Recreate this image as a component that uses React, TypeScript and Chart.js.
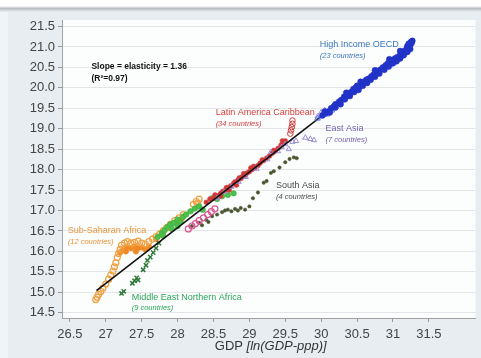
import { useEffect, useRef } from "react";
import { Chart, registerables } from "chart.js";

Chart.register(...registerables);

type P = [number, number];

const xTickValues = [26.5, 27, 27.5, 28, 28.5, 29, 29.5, 30, 30.5, 31, 31.5];
const yTickValues = [14.5, 15, 15.5, 16, 16.5, 17, 17.5, 18, 18.5, 19, 19.5, 20, 20.5, 21, 21.5];

const regressionLine: P[] = [[26.87, 15.04], [31.25, 21.0]];

const oecdCircles: P[] = [
  [30.02, 19.33], [30.06, 19.38], [30.1, 19.42], [30.14, 19.5], [30.18, 19.55], [30.2, 19.6],
  [30.25, 19.66], [30.28, 19.7], [30.32, 19.78], [30.35, 19.8], [30.38, 19.86], [30.42, 19.9],
  [30.45, 19.97], [30.48, 20.0], [30.5, 20.05], [30.53, 20.02], [30.56, 20.1], [30.6, 20.15],
  [30.63, 20.2], [30.66, 20.22], [30.7, 20.28], [30.73, 20.32], [30.76, 20.38], [30.8, 20.42],
  [30.83, 20.45], [30.86, 20.5], [30.9, 20.55], [30.93, 20.6], [30.96, 20.62], [31.0, 20.68],
  [31.03, 20.72], [31.06, 20.75], [31.1, 20.8], [31.13, 20.86], [31.16, 20.9], [31.19, 20.95],
  [31.22, 21.0], [31.24, 21.05], [31.26, 21.1], [31.27, 21.15], [31.25, 21.12], [31.2, 21.02],
  [30.05, 19.42], [30.12, 19.4], [30.2, 19.52], [30.27, 19.6], [30.33, 19.72], [30.4, 19.8],
  [30.46, 19.9], [30.52, 19.95], [30.58, 20.05], [30.64, 20.12], [30.69, 20.2], [30.75, 20.27],
  [30.81, 20.35], [30.88, 20.44], [30.94, 20.52], [31.0, 20.6], [31.05, 20.65], [31.1, 20.72],
  [31.15, 20.8], [31.2, 20.88], [31.24, 20.95], [30.35, 19.88], [30.55, 20.15], [30.75, 20.43],
  [30.95, 20.7], [31.1, 20.9], [31.22, 21.08],
];
const oecdTriangles: P[] = [
  [29.95, 19.25], [30.0, 19.3], [30.08, 19.35], [30.15, 19.45], [30.3, 19.7], [30.4, 19.85],
  [30.5, 19.98], [30.55, 20.05], [30.62, 20.12], [30.7, 20.25], [30.78, 20.35], [30.85, 20.45],
  [30.95, 20.55], [31.05, 20.7], [31.12, 20.8], [31.18, 20.9], [31.23, 20.98],
];
const eastAsia: P[] = [
  [28.55, 17.3], [28.65, 17.45], [28.75, 17.58], [28.85, 17.7], [28.95, 17.82], [29.1, 18.02],
  [29.25, 18.25], [29.3, 18.43], [29.4, 18.45], [29.45, 18.55], [29.5, 18.62], [29.55, 18.5],
  [29.6, 18.68], [29.65, 18.7], [29.78, 18.78], [29.85, 18.75], [29.9, 18.72], [29.95, 19.3],
  [30.0, 19.4], [30.05, 19.45], [30.1, 19.38],
];
const latinAmerica: P[] = [
  [28.4, 17.2], [28.45, 17.28], [28.5, 17.3], [28.55, 17.36], [28.6, 17.42], [28.63, 17.47],
  [28.67, 17.5], [28.7, 17.56], [28.74, 17.6], [28.78, 17.66], [28.8, 17.7], [28.84, 17.74],
  [28.88, 17.78], [28.9, 17.82], [28.94, 17.86], [28.97, 17.92], [29.0, 17.95], [29.04, 18.0],
  [29.08, 18.05], [29.12, 18.1], [29.15, 18.16], [29.2, 18.22], [29.24, 18.28], [29.28, 18.33],
  [29.32, 18.4], [29.36, 18.45], [29.4, 18.52], [29.44, 18.6], [29.47, 18.66], [29.5, 18.7],
  [28.82, 17.62], [28.92, 17.9], [29.06, 18.08], [28.6, 17.35], [28.72, 17.5],
  [28.52, 17.38], [28.68, 17.56], [28.86, 17.8], [29.02, 18.04], [29.18, 18.24], [29.34, 18.47],
  [29.46, 18.7],
];
const latinCircles: P[] = [[29.57, 18.88], [29.58, 18.96], [29.59, 19.04], [29.6, 19.12], [29.6, 19.2]];
const pinkCircles: P[] = [
  [28.15, 16.55], [28.2, 16.62], [28.25, 16.68], [28.3, 16.75], [28.36, 16.82], [28.42, 16.9],
  [28.47, 16.97], [28.52, 17.04],
];
const southAsia: P[] = [
  [28.2, 16.62], [28.3, 16.7], [28.34, 16.64], [28.4, 16.77], [28.43, 16.72], [28.48, 16.86],
  [28.55, 16.9], [28.62, 16.96], [28.66, 17.0], [28.7, 17.02], [28.75, 16.98], [28.8, 17.04],
  [28.84, 17.0], [28.88, 17.06], [28.94, 17.02], [29.0, 17.1], [29.05, 17.3], [29.12, 17.44],
  [29.2, 17.68], [29.24, 17.72], [29.3, 17.92], [29.34, 17.96], [29.42, 18.05], [29.5, 18.18],
  [29.56, 18.26], [29.62, 18.3], [29.66, 18.28],
];
const menaCrosses: P[] = [
  [27.22, 14.97], [27.25, 15.02], [27.37, 15.22], [27.4, 15.28], [27.43, 15.35], [27.45, 15.3],
  [27.52, 15.55], [27.56, 15.66], [27.58, 15.78], [27.62, 15.86], [27.66, 15.97], [27.7, 16.08],
  [27.74, 16.2],
];
const menaFilled: P[] = [
  [27.72, 16.35], [27.78, 16.45], [27.82, 16.52], [27.86, 16.6], [27.9, 16.66], [27.95, 16.7],
  [28.0, 16.78], [28.04, 16.72], [28.08, 16.85], [28.12, 16.9], [28.18, 16.98], [28.24, 17.05],
  [28.3, 17.1], [28.35, 17.02], [28.48, 17.3], [28.55, 17.28], [28.62, 17.35], [28.7, 17.38],
  [28.78, 17.42], [27.8, 16.38], [27.92, 16.55], [28.0, 16.62],
];
const ssaCircles: P[] = [
  [26.86, 14.82], [26.88, 14.88], [26.9, 14.95], [26.93, 15.02], [26.96, 15.1], [27.0, 15.2],
  [27.04, 15.32], [27.07, 15.42], [27.1, 15.52], [27.12, 15.62], [27.14, 15.72], [27.16, 15.85],
  [27.18, 15.95], [27.2, 16.05], [27.22, 16.15], [27.26, 16.2], [27.3, 16.24], [27.35, 16.2],
  [27.4, 16.22], [27.45, 16.25], [27.5, 16.2], [27.55, 16.18], [27.6, 16.24], [27.65, 16.3],
  [27.7, 16.36], [27.75, 16.42], [27.8, 16.5], [27.85, 16.58], [27.9, 16.66], [27.96, 16.75],
  [28.02, 16.82], [28.08, 16.9], [28.22, 17.15], [28.26, 17.22], [28.3, 17.28], [28.28, 17.18],
];
const ssaFilled: P[] = [
  [27.25, 16.05], [27.3, 16.1], [27.35, 16.08], [27.4, 16.12], [27.45, 16.08], [27.5, 16.1],
  [27.55, 16.05], [27.6, 16.12], [27.28, 16.0], [27.42, 16.0], [27.7, 16.3], [27.78, 16.45],
  [27.88, 16.62], [27.98, 16.72], [28.06, 16.8], [27.2, 15.98],
];

const annotations = [
  { lines: ["Slope = elasticity = 1.36", "(R\u00b2=0.97)"], x: 26.8, y: 20.51, color: "#111111", bold: true },
  { lines: ["High Income OECD", "(23 countries)"], x: 29.98, y: 21.05, color: "#3a78bd" },
  { lines: ["Latin America Caribbean", "(34 countries)"], x: 28.53, y: 19.39, color: "#d8403e" },
  { lines: ["East Asia", "(7 countries)"], x: 30.06, y: 19.0, color: "#7462ad" },
  { lines: ["South Asia", "(4 countries)"], x: 29.37, y: 17.6, color: "#4a4a4a" },
  { lines: ["Sub-Saharan Africa", "(12 countries)"], x: 26.47, y: 16.51, color: "#e8963c" },
  { lines: ["Middle East Northern Africa", "(9 countries)"], x: 27.36, y: 14.88, color: "#2ca65a" },
];

const toXY = (pts: P[]) => pts.map(([x, y]) => ({ x, y }));

const backgroundPlugin = {
  id: "bg",
  beforeDraw(chart: any) {
    const { ctx, chartArea, width, height } = chart;
    ctx.save();
    ctx.fillStyle = "#ffffff";
    ctx.fillRect(0, 0, width, height);
    ctx.fillStyle = "#e8edf1";
    ctx.fillRect(0, 9, width, height - 9);
    ctx.fillStyle = "#f1f4f6";
    ctx.fillRect(0, 9, 8, height - 9);
    const g = ctx.createLinearGradient(0, 6, 0, 12);
    g.addColorStop(0, "#ffffff");
    g.addColorStop(0.4, "#b9bec2");
    g.addColorStop(1, "#e8edf1");
    ctx.fillStyle = g;
    ctx.fillRect(0, 6, width, 6);
    ctx.fillStyle = "#fcfdfd";
    ctx.fillRect(chartArea.left, chartArea.top, chartArea.right - chartArea.left, chartArea.bottom - chartArea.top);
    ctx.restore();
  },
};

const textPlugin = {
  id: "texts",
  afterDatasetsDraw(chart: any) {
    const { ctx, scales, chartArea } = chart;
    ctx.save();
    ctx.textBaseline = "middle";
    ctx.textAlign = "left";
    for (const a of annotations) {
      const px = scales.x.getPixelForValue(a.x);
      const py = scales.y.getPixelForValue(a.y);
      ctx.fillStyle = a.color;
      if ((a as any).bold) {
        ctx.font = "bold 8.5px 'Liberation Sans', Arial, sans-serif";
        ctx.fillText(a.lines[0], px, py);
        ctx.fillText(a.lines[1], px, py + 12);
      } else {
        ctx.font = "9px 'Liberation Sans', Arial, sans-serif";
        ctx.fillText(a.lines[0], px, py);
        ctx.font = "italic 7.5px 'Liberation Sans', Arial, sans-serif";
        ctx.fillText(a.lines[1], px, py + 11);
      }
    }
    const normal = "13px 'Liberation Sans', Arial, sans-serif";
    const italic = "italic 13px 'Liberation Sans', Arial, sans-serif";
    const p1 = "GDP ";
    const p2 = "[ln(GDP-ppp)]";
    ctx.font = normal;
    const w1 = ctx.measureText(p1).width;
    ctx.font = italic;
    const w2 = ctx.measureText(p2).width;
    const cx = (chartArea.left + chartArea.right) / 2 + 2;
    const start = cx - (w1 + w2) / 2;
    ctx.fillStyle = "#333333";
    ctx.font = normal;
    ctx.fillText(p1, start, 346);
    ctx.font = italic;
    ctx.fillText(p2, start + w1, 346);
    ctx.restore();
  },
};

export default function App() {
  const ref = useRef<HTMLCanvasElement | null>(null);
  useEffect(() => {
    if (!ref.current) return;
    const tickFont = { family: "'Liberation Sans', Arial, sans-serif", size: 13 };
    const chart = new Chart(ref.current, {
      type: "scatter",
      data: {
        datasets: [
          {
            type: "line",
            data: toXY(regressionLine),
            borderColor: "#111111",
            borderWidth: 1.6,
            pointRadius: 0,
            fill: false,
            order: 2,
          } as any,
          { data: toXY(oecdCircles), pointStyle: "circle", radius: 3, backgroundColor: "#2233c8", borderColor: "#2233c8", borderWidth: 0.5, order: 1 },
          { data: toXY(oecdTriangles), pointStyle: "triangle", radius: 3.2, backgroundColor: "rgba(0,0,0,0)", borderColor: "#5a6de0", borderWidth: 1, order: 1 },
          { data: toXY(eastAsia), pointStyle: "triangle", radius: 3, backgroundColor: "rgba(0,0,0,0)", borderColor: "#9a8ed8", borderWidth: 1, order: 3 },
          { data: toXY(latinAmerica), pointStyle: "circle", radius: 2.4, backgroundColor: "#d23838", borderColor: "#d23838", borderWidth: 0.5, order: 3 },
          { data: toXY(latinCircles), pointStyle: "circle", radius: 2.8, backgroundColor: "rgba(0,0,0,0)", borderColor: "#d23838", borderWidth: 1, order: 3 },
          { data: toXY(pinkCircles), pointStyle: "circle", radius: 3, backgroundColor: "rgba(0,0,0,0)", borderColor: "#d9558f", borderWidth: 1.2, order: 3 },
          { data: toXY(southAsia), pointStyle: "circle", radius: 1.7, backgroundColor: "#4a5530", borderColor: "#4a5530", borderWidth: 0.5, order: 3 },
          { data: toXY(menaCrosses), pointStyle: "crossRot", radius: 3, backgroundColor: "#2f7a3a", borderColor: "#2f7a3a", borderWidth: 1.5, order: 3 },
          { data: toXY(menaFilled), pointStyle: "circle", radius: 2.8, backgroundColor: "#4cc04c", borderColor: "#3aa83a", borderWidth: 0.5, order: 3 },
          { data: toXY(ssaCircles), pointStyle: "circle", radius: 3, backgroundColor: "rgba(0,0,0,0)", borderColor: "#f0a040", borderWidth: 1.2, order: 3 },
          { data: toXY(ssaFilled), pointStyle: "circle", radius: 2.8, backgroundColor: "#f08a24", borderColor: "#f08a24", borderWidth: 0.5, order: 3 },
        ],
      },
      options: {
        animation: false,
        responsive: false,
        maintainAspectRatio: false,
        events: [],
        layout: { padding: { top: 20, right: 2, left: 0, bottom: 0 } },
        plugins: { legend: { display: false }, tooltip: { enabled: false }, title: { display: false } },
        scales: {
          x: {
            type: "linear",
            min: 26.39,
            max: 32.15,
            afterBuildTicks: (s: any) => { s.ticks = xTickValues.map((v) => ({ value: v })); },
            afterFit: (s: any) => { s.height = 40; },
            ticks: { font: tickFont, color: "#444444", padding: 5, callback: (v: any) => String(v) },
            grid: { color: "rgba(0,0,0,0)", drawOnChartArea: false, tickColor: "#9a9a9a", tickLength: 4 },
            border: { color: "#a0a0a0" },
          },
          y: {
            type: "linear",
            min: 14.37,
            max: 21.66,
            afterBuildTicks: (s: any) => { s.ticks = yTickValues.map((v) => ({ value: v })); },
            afterFit: (s: any) => { s.width = 62; },
            ticks: { font: tickFont, color: "#444444", padding: 3, callback: (v: any) => Number(v).toFixed(1) },
            grid: { color: "#e3e5e6", tickColor: "#9a9a9a", tickLength: 4 },
            border: { color: "#a0a0a0" },
          },
        },
      },
      plugins: [backgroundPlugin, textPlugin],
    } as any);
    return () => chart.destroy();
  }, []);
  return (
    <div style={{ position: "fixed", left: 0, top: 0, width: 481, height: 358 }}>
      <canvas ref={ref} width={481} height={358} style={{ width: 481, height: 358, display: "block" }} />
    </div>
  );
}
